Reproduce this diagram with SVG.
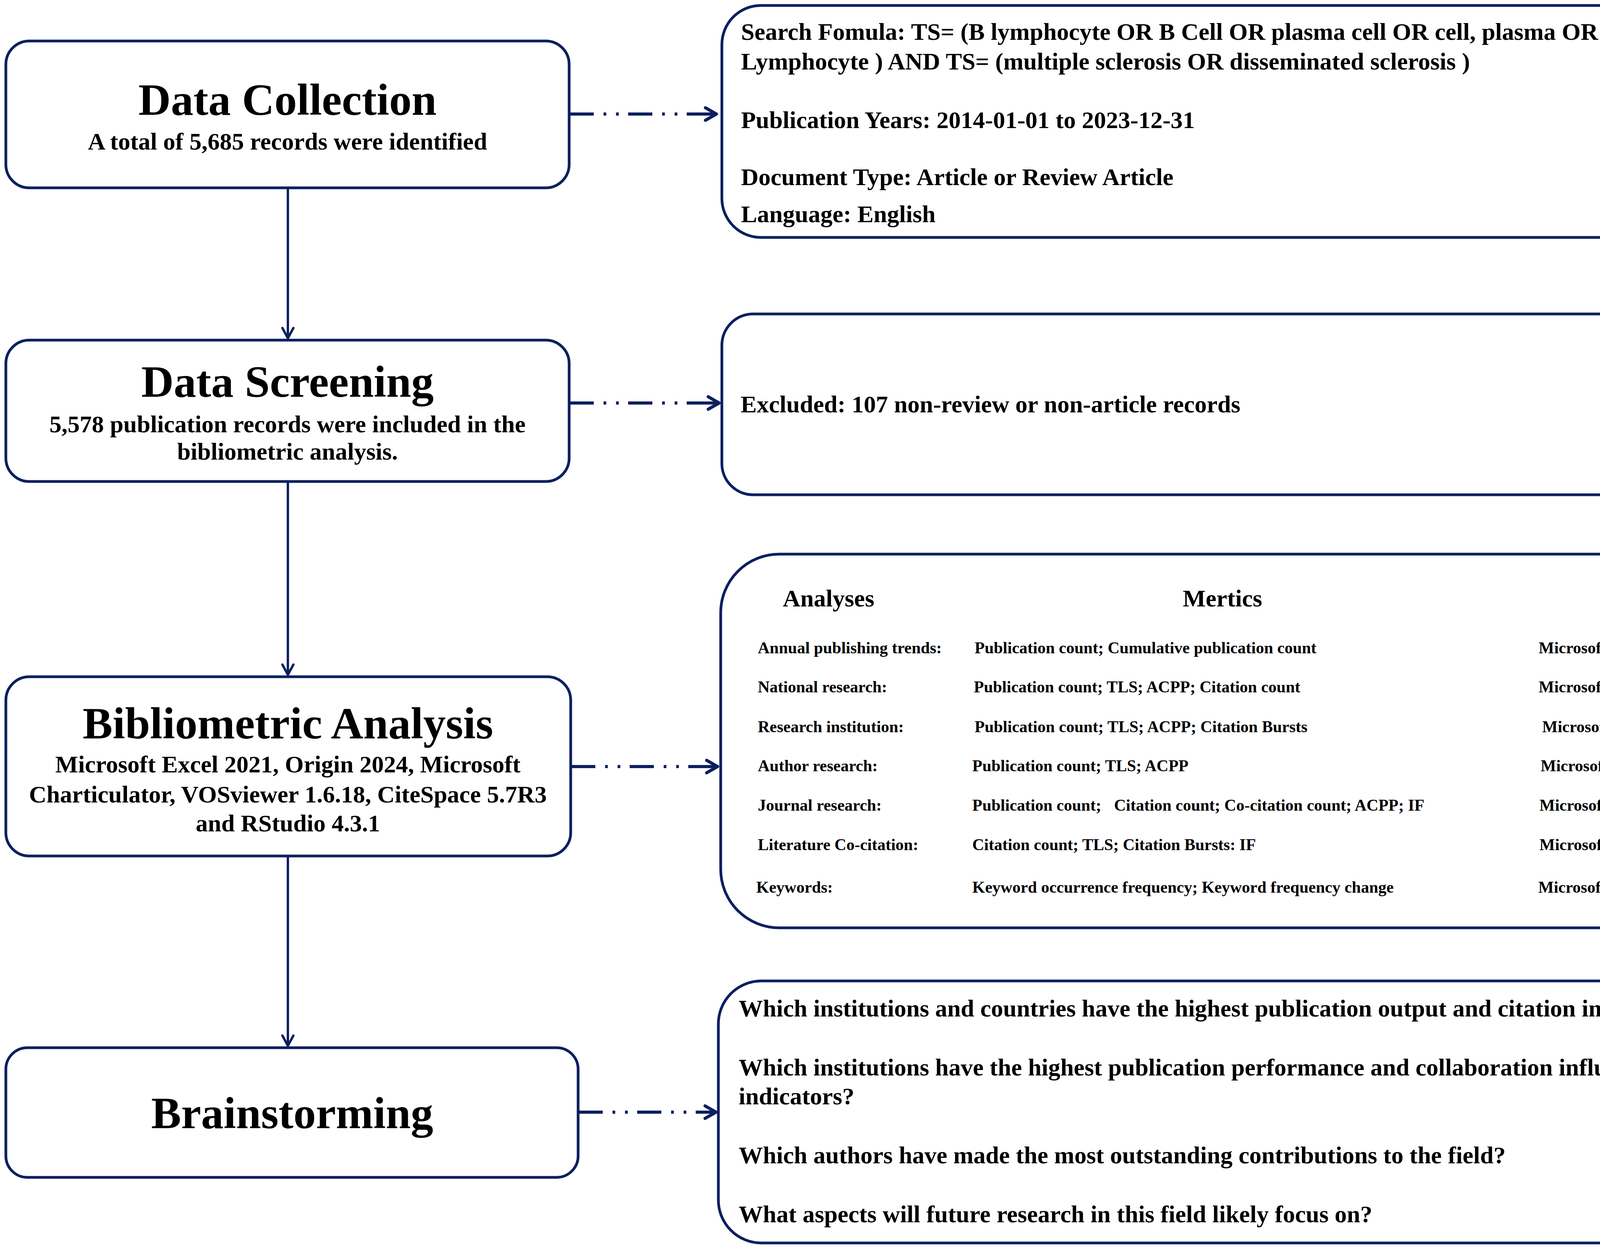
<svg xmlns="http://www.w3.org/2000/svg" width="5197" height="3201" viewBox="0 0 5197 3201">
<style>
.box{fill:#ffffff;stroke:#0c1f5f;stroke-width:7}
text{font-family:"Liberation Serif","Times New Roman",serif;font-weight:bold;fill:#000000}
.title{font-size:115px;text-anchor:middle}
.sub{font-size:62px;text-anchor:middle}
.body{font-size:62px}
.row{font-size:42px}
.vline{fill:none;stroke:#0c1f5f;stroke-width:6}
.vhead{fill:none;stroke:#0c1f5f;stroke-width:6;stroke-linecap:round;stroke-linejoin:round}
.dash{fill:none;stroke:#0c1f5f;stroke-width:8;stroke-linecap:butt;stroke-dasharray:62 25 7 25 7 24 62 25 7 25 7 24 120}
.hhead{fill:none;stroke:#0c1f5f;stroke-width:8;stroke-linecap:round;stroke-linejoin:round}
</style>
<rect width="5197" height="3201" fill="#ffffff"/>

<g id="connectors">
  <path class="vline" d="M737,481 V866"/>
  <polyline class="vhead" points="723,840 737,866 751,840"/>
  <path class="vline" d="M737,1233 V1728"/>
  <polyline class="vhead" points="723,1702 737,1728 751,1702"/>
  <path class="vline" d="M737,2192 V2678"/>
  <polyline class="vhead" points="723,2652 737,2678 751,2652"/>

  <path class="dash" d="M1458,292 H1834"/>
  <polyline class="hhead" points="1806,276 1834,292 1806,308"/>
  <path class="dash" d="M1458,1032 H1841"/>
  <polyline class="hhead" points="1813,1016 1841,1032 1813,1048"/>
  <path class="dash" d="M1462,1963 H1837"/>
  <polyline class="hhead" points="1809,1947 1837,1963 1809,1979"/>
  <path class="dash" d="M1481,2848 H1833"/>
  <polyline class="hhead" points="1805,2832 1833,2848 1805,2864"/>
</g>

<g id="data-collection">
  <rect class="box" x="15" y="105" width="1442" height="376" rx="60"/>
  <text class="title" x="736" y="294">Data Collection</text>
  <text class="sub" x="736" y="383">A total of 5,685 records were identified</text>
</g>

<g id="data-screening">
  <rect class="box" x="15" y="871" width="1442" height="362" rx="60"/>
  <text class="title" x="736" y="1016">Data Screening</text>
  <text class="sub" x="736" y="1107">5,578 publication records were included in the</text>
  <text class="sub" x="736" y="1177">bibliometric analysis.</text>
</g>

<g id="bibliometric-analysis">
  <rect class="box" x="15" y="1733" width="1446" height="459" rx="60"/>
  <text class="title" x="737" y="1891">Bibliometric Analysis</text>
  <text class="sub" x="737" y="1978">Microsoft Excel 2021, Origin 2024, Microsoft</text>
  <text class="sub" x="737" y="2055">Charticulator, VOSviewer 1.6.18, CiteSpace 5.7R3</text>
  <text class="sub" x="737" y="2129">and RStudio 4.3.1</text>
</g>

<g id="brainstorming">
  <rect class="box" x="15" y="2683" width="1465" height="332" rx="55"/>
  <text class="title" x="748" y="2889">Brainstorming</text>
</g>

<g id="search-criteria">
  <rect class="box" x="1848" y="14" width="3328" height="594" rx="100"/>
  <text class="body" x="1897" y="102">Search Fomula: TS= (B lymphocyte OR B Cell OR plasma cell OR cell, plasma OR Cell, B OR Bone marrow</text>
  <text class="body" x="1897" y="178">Lymphocyte ) AND TS= (multiple sclerosis OR disseminated sclerosis )</text>
  <text class="body" x="1897" y="328">Publication Years: 2014-01-01 to 2023-12-31</text>
  <text class="body" x="1897" y="474">Document Type: Article or Review Article</text>
  <text class="body" x="1897" y="569">Language: English</text>
</g>

<g id="exclusion">
  <rect class="box" x="1848" y="804" width="3326" height="463" rx="80"/>
  <text class="body" x="1896" y="1056">Excluded: 107 non-review or non-article records</text>
</g>

<g id="analysis-table">
  <rect class="box" x="1845" y="1419" width="3333" height="957" rx="150"/>
  <text class="body" x="2004" y="1553">Analyses</text>
  <text class="body" x="3028" y="1553">Mertics</text>
  <text class="body" x="4463" y="1553">Software</text>

  <text class="row" x="1940" y="1673">Annual publishing trends:</text>
  <text class="row" x="2495" y="1673">Publication count; Cumulative publication count</text>
  <text class="row" x="3939" y="1673">Microsoft Excel</text>

  <text class="row" x="1940" y="1773">National research:</text>
  <text class="row" x="2493" y="1773">Publication count; TLS; ACPP; Citation count</text>
  <text class="row" x="3939" y="1773">Microsoft Excel, Microsoft Charticulator, VOSviewer</text>

  <text class="row" x="1940" y="1875">Research institution:</text>
  <text class="row" x="2495" y="1875">Publication count; TLS; ACPP; Citation Bursts</text>
  <text class="row" x="3948" y="1875">Microsoft Excel, CiteSpace; Origin; Bibliometrix in R Studio</text>

  <text class="row" x="1940" y="1975">Author research:</text>
  <text class="row" x="2489" y="1975">Publication count; TLS; ACPP</text>
  <text class="row" x="3944" y="1975">Microsoft Excel; VOSviewer; Origin; Bibliometrix in R Studio</text>

  <text class="row" x="1940" y="2076">Journal research:</text>
  <text class="row" x="2489" y="2076">Publication count;<tspan x="2852">Citation count; Co-citation count; ACPP; IF</tspan></text>
  <text class="row" x="3941" y="2076">Microsoft Excel; CiteSpace;VOSviewer; Bibliometrix in R Studio</text>

  <text class="row" x="1940" y="2177">Literature Co-citation:</text>
  <text class="row" x="2489" y="2177">Citation count; TLS; Citation Bursts: IF</text>
  <text class="row" x="3941" y="2177">Microsoft Excel; CiteSpace;VOSviewer</text>

  <text class="row" x="1936" y="2286">Keywords:</text>
  <text class="row" x="2489" y="2286">Keyword occurrence frequency; Keyword frequency change</text>
  <text class="row" x="3938" y="2286">Microsoft Excel; CiteSpace;VOSviewer; Bibliometrix in R Studio</text>
</g>

<g id="questions">
  <rect class="box" x="1839" y="2512" width="3336" height="671" rx="110"/>
  <text class="body" x="1891" y="2603">Which institutions and countries have the highest publication output and citation impact in this research field?</text>
  <text class="body" x="1891" y="2754">Which institutions have the highest publication performance and collaboration influence based on bibliometric</text>
  <text class="body" x="1891" y="2828">indicators?</text>
  <text class="body" x="1891" y="2979">Which authors have made the most outstanding contributions to the field?</text>
  <text class="body" x="1891" y="3130">What aspects will future research in this field likely focus on?</text>
</g>
</svg>
